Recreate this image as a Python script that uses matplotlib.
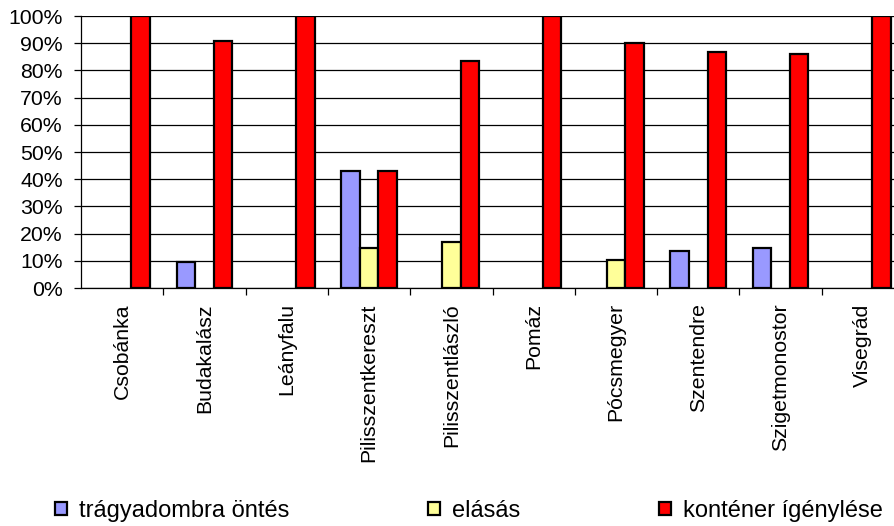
"""Grouped bar chart: waste handling methods by settlement (share of answers)."""

import numpy as np
import matplotlib

matplotlib.use("Agg")
import matplotlib.pyplot as plt
from matplotlib.patches import Patch
from matplotlib.ticker import FixedLocator, PercentFormatter

plt.rcParams["font.family"] = ["Liberation Sans", "DejaVu Sans"]

settlements = [
    "Csobánka", "Budakalász", "Leányfalu", "Pilisszentkereszt", "Pilisszentlászló",
    "Pomáz", "Pócsmegyer", "Szentendre", "Szigetmonostor", "Visegrád",
]
series_names = ["trágyadombra öntés", "elásás", "konténer ígénylése"]
tragyadomb = [0, 9.6, 0, 43.0, 0, 0, 0, 13.7, 14.6, 0]
elasas = [0, 0, 0, 14.6, 16.9, 0, 10.4, 0, 0, 0]
kontener = [100, 90.7, 100, 43.0, 83.5, 100, 90.0, 86.8, 85.9, 100]
colors = ["#9999FF", "#FFFF99", "#FF0000"]


def main() -> None:
    fig = plt.figure(figsize=(8.94, 5.26), dpi=100)
    # right edge runs past the figure, so the last group is cut off
    ax = fig.add_axes([81 / 894, 1 - 288 / 526, 823 / 894, 272 / 526])

    x = np.arange(len(settlements))
    width = 0.225
    for i, (values, color) in enumerate(zip([tragyadomb, elasas, kontener], colors)):
        vals = np.asarray(values, dtype=float)
        keep = vals > 0
        ax.bar(x[keep] + (i - 1) * width, vals[keep], width=width, color=color,
               edgecolor="black", linewidth=1.6, zorder=3)

    ax.set_xlim(-0.5, len(settlements) - 0.5)
    ax.set_ylim(0, 100)
    ax.set_yticks(np.arange(0, 101, 10))
    ax.yaxis.set_major_formatter(PercentFormatter(decimals=0))
    ax.grid(axis="y", color="black", linewidth=0.9, zorder=0)
    ax.set_axisbelow(True)

    ax.set_xticks(x)
    ax.set_xticklabels(settlements, rotation=90, va="top", ha="center")
    ax.xaxis.set_minor_locator(FixedLocator(np.arange(0.5, len(settlements) - 0.5, 1.0)))
    ax.tick_params(axis="x", which="major", length=0, pad=11, labelsize=15.3)
    ax.tick_params(axis="x", which="minor", length=5, width=0.9, color="black")
    ax.tick_params(axis="y", length=5, width=0.9, pad=8, labelsize=15.3)

    for side in ("top", "right"):
        ax.spines[side].set_visible(False)
    for side in ("left", "bottom"):
        ax.spines[side].set_color("black")
        ax.spines[side].set_linewidth(0.9)

    handles = [Patch(facecolor=c, edgecolor="black", linewidth=1.6) for c in colors]
    fig.legend(handles, series_names, loc="center left", bbox_to_anchor=(55 / 894, 1 - 511 / 526),
               ncol=3, frameon=False, fontsize=17, handlelength=0.5, handleheight=0.5,
               handletextpad=0.5, columnspacing=5.9, borderaxespad=0, borderpad=0)

    fig.savefig("out.png", dpi=100)
    plt.close(fig)


if __name__ == "__main__":
    main()
